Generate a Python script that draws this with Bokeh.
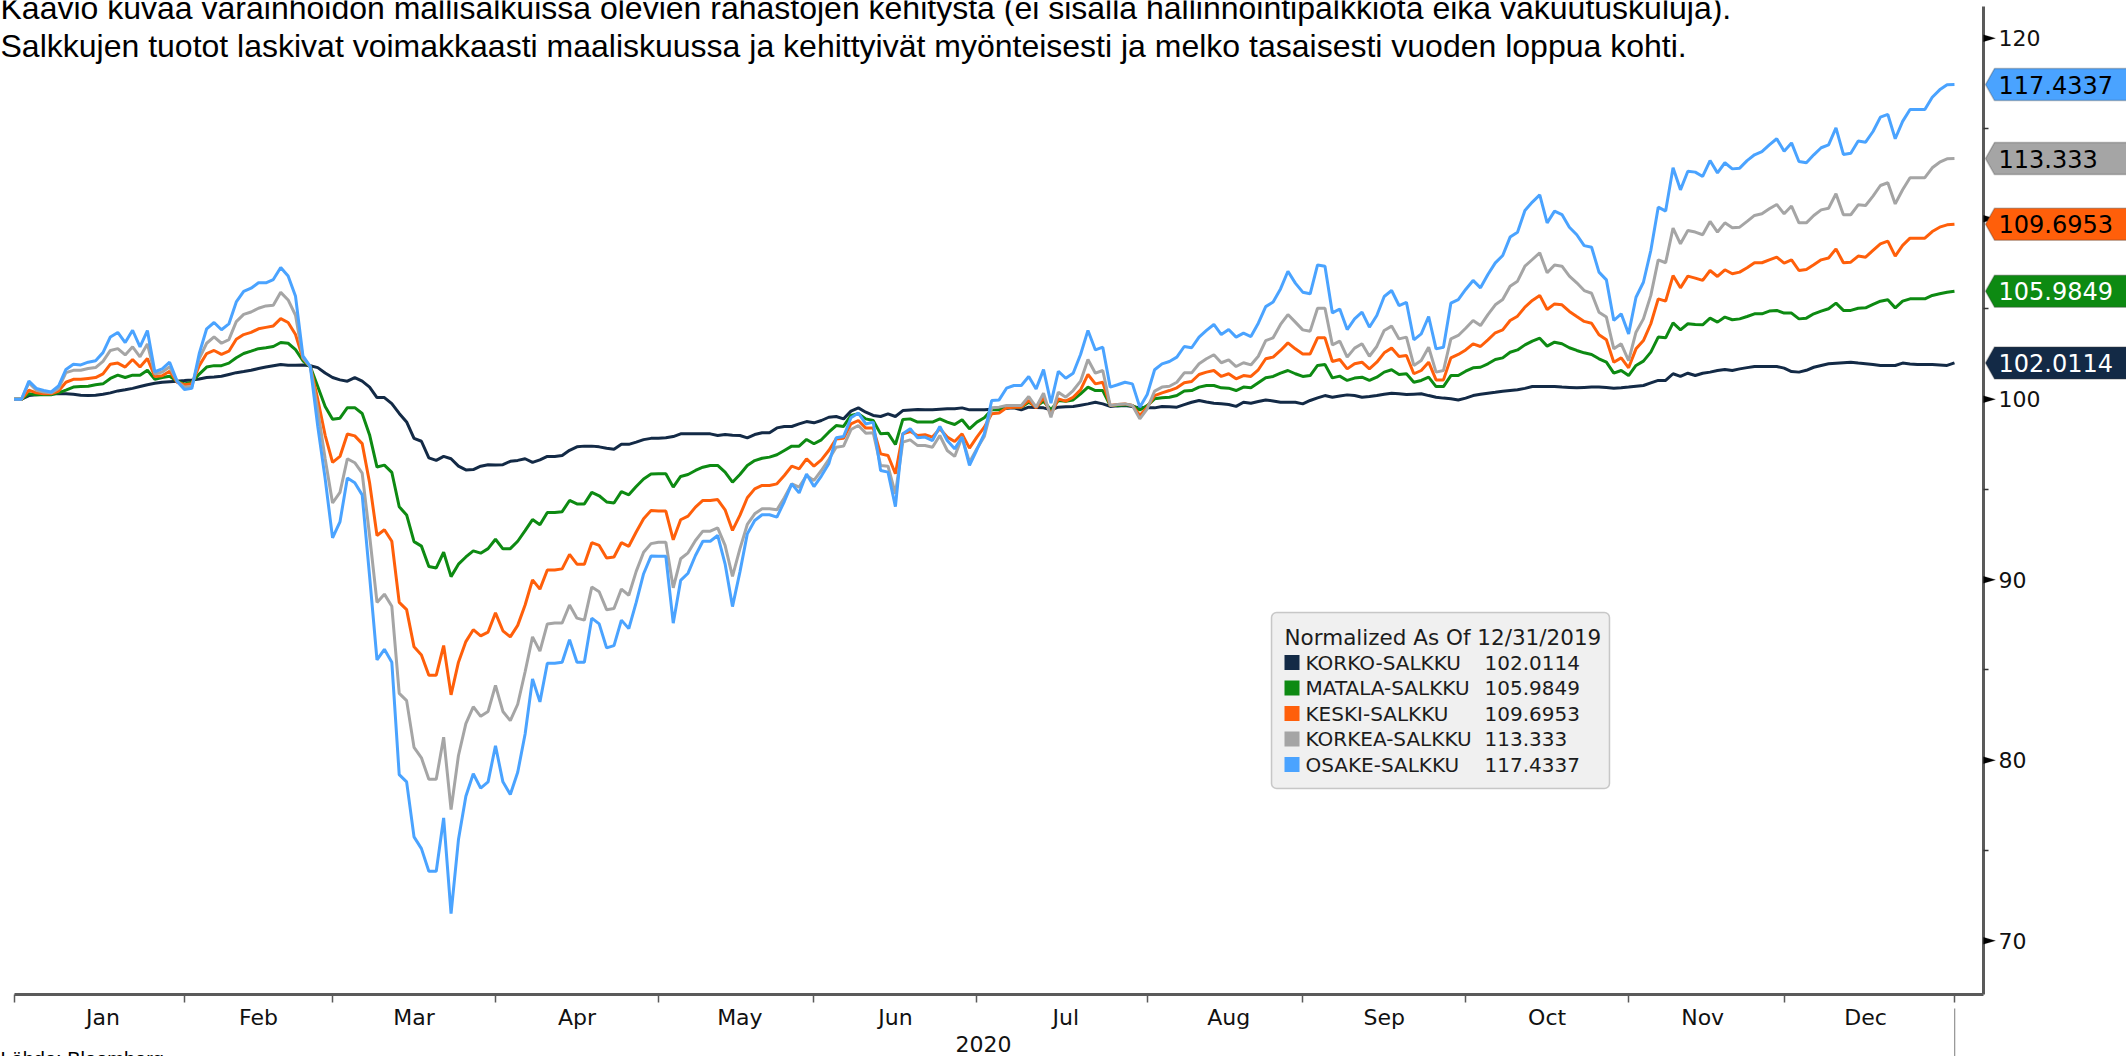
import numpy as np
import pandas as pd
from bokeh.plotting import figure
from bokeh.models import (Range1d, FixedTicker, Label, BoxAnnotation,
                          PolyAnnotation, ColumnDataSource)
from bokeh.embed import file_html
from bokeh.resources import INLINE

# ---------------- data ----------------
DATES = pd.bdate_range("2019-12-31", "2020-12-31")   # trading days
MONTHS = ["Jan", "Feb", "Mar", "Apr", "May", "Jun",
          "Jul", "Aug", "Sep", "Oct", "Nov", "Dec"]
YEAR_LABEL = "2020"
SERIES_NAMES = ["KORKO-SALKKU", "MATALA-SALKKU", "KESKI-SALKKU",
                "KORKEA-SALKKU", "OSAKE-SALKKU"]
LAST_VALUES = ["102.0114", "105.9849", "109.6953", "113.333", "117.4337"]
LEGEND_TITLE = "Normalized As Of 12/31/2019"
TITLE_1 = ("Kaavio kuvaa varainhoidon mallisalkuissa olevien rahastojen kehitystä "
           "(ei sisällä hallinnointipalkkiota eikä vakuutuskuluja).")
TITLE_2 = ("Salkkujen tuotot laskivat voimakkaasti maaliskuussa ja kehittyivät "
           "myönteisesti ja melko tasaisesti vuoden loppua kohti.")
SOURCE = "Lähde: Bloomberg"
Y_TICKS = [70, 80, 90, 100, 110, 120]
Y_MINOR = [75, 85, 95, 105, 115]

osake = [
    100, 100, 101.0, 100.6, 100.48, 100.4, 100.73, 101.65, 101.94, 101.9,
    102.05, 102.13, 102.58, 103.45, 103.7, 103.14, 103.82, 102.9, 103.8, 101.52,
    101.68, 102.05, 101.0, 100.54, 100.6, 102.53, 103.9, 104.25, 103.85, 104.17,
    105.39, 105.97, 106.15, 106.45, 106.45, 106.63, 107.3, 106.82, 105.7, 102.4,
    101.8, 98.5, 95.6, 92.32, 93.2, 95.63, 95.37, 94.7, 90.2, 85.56,
    86.14, 85.43, 79.2, 78.8, 75.75, 75.1, 73.85, 73.85, 76.8, 71.5,
    75.6, 78.0, 79.25, 78.45, 78.8, 80.8, 78.8, 78.1, 79.33, 81.45,
    84.5, 83.23, 85.37, 85.37, 85.43, 86.68, 85.43, 85.43, 87.87, 87.55,
    86.22, 86.35, 87.76, 87.29, 88.74, 90.33, 91.31, 91.3, 91.3, 87.59,
    89.96, 90.36, 91.34, 92.13, 92.13, 92.45, 90.88, 88.51, 90.42, 92.54,
    93.28, 93.6, 93.6, 93.47, 94.33, 95.31, 94.81, 95.86, 95.16, 95.74,
    96.42, 97.86, 97.93, 98.97, 99.23, 98.63, 98.73, 96.05, 95.96, 94.05,
    98.08, 98.36, 97.86, 97.9, 97.71, 98.49, 97.71, 97.25, 97.9, 96.33,
    97.2, 98.08, 99.93, 99.96, 100.61, 100.76, 100.76, 101.26, 100.57, 101.64,
    99.78, 101.55, 101.16, 101.44, 102.48, 103.81, 102.73, 102.88, 100.67, 100.8,
    100.94, 100.85, 99.56, 100.26, 101.63, 101.96, 102.09, 102.33, 102.92, 102.85,
    103.44, 103.81, 104.14, 103.58, 103.86, 103.44, 103.66, 103.47, 104.21, 105.13,
    105.38, 106.11, 107.09, 106.43, 105.93, 105.84, 107.44, 107.37, 104.78, 105.0,
    103.86, 104.45, 104.82, 103.99, 104.64, 105.69, 106.02, 105.19, 105.37, 103.29,
    103.62, 104.58, 102.79, 102.88, 105.32, 105.52, 106.08, 106.58, 106.17, 106.91,
    107.55, 107.96, 108.98, 109.25, 110.45, 110.92, 111.32, 109.77, 110.42, 110.23,
    109.53, 109.11, 108.51, 108.42, 107.04, 106.61, 104.36, 104.73, 103.62, 105.65,
    106.48, 108.24, 110.64, 110.42, 112.82, 111.6, 112.63, 112.58, 112.34, 113.22,
    112.54, 113.1, 112.76, 112.8, 113.22, 113.54, 113.72, 114.09, 114.43, 113.74,
    114.2, 113.17, 113.1, 113.54, 113.93, 114.09, 115.03, 113.56, 113.63, 114.3,
    114.24, 114.83, 115.63, 115.78, 114.43, 115.39, 116.05, 116.05, 116.05, 116.73,
    117.14, 117.42, 117.4337]

korkea = [
    100, 100, 100.9, 100.5, 100.4, 100.35, 100.6, 101.47, 101.6, 101.6,
    101.7, 101.75, 102.1, 102.7, 102.8, 102.45, 102.9, 102.35, 103.06, 101.4,
    101.5, 101.8, 101.0, 100.67, 100.7, 102.25, 103.1, 103.45, 103.1, 103.3,
    104.3, 104.7, 104.83, 105.04, 105.17, 105.2, 105.92, 105.5, 104.65, 102.3,
    101.8, 99.4, 96.7, 94.25, 94.84, 96.7, 96.48, 95.9, 92.45, 88.74,
    89.2, 88.53, 83.7, 83.3, 80.71, 80.13, 78.94, 78.94, 81.27, 77.26,
    80.26, 82.03, 82.96, 82.43, 82.7, 84.15, 82.7, 82.19, 83.1, 84.9,
    86.83, 86.04, 87.55, 87.6, 87.6, 88.6, 87.87, 87.76, 89.59, 89.33,
    88.34, 88.4, 89.48, 89.14, 90.46, 91.52, 92.0, 92.08, 92.08, 89.55,
    91.16, 91.49, 92.17, 92.69, 92.69, 92.87, 91.9, 90.18, 91.71, 93.06,
    93.65, 93.93, 93.93, 93.87, 94.54, 95.31, 95.13, 95.77, 95.5, 96.05,
    96.66, 97.34, 97.4, 98.32, 98.54, 98.12, 98.14, 96.33, 96.29, 94.76,
    97.62, 97.75, 97.43, 97.43, 97.34, 97.99, 97.16, 96.83, 97.9, 96.51,
    97.25, 97.93, 99.52, 99.56, 99.65, 99.65, 99.65, 100.15, 99.56, 100.33,
    99.0, 100.39, 100.11, 100.48, 101.0, 102.2, 101.44, 101.59, 99.65, 99.71,
    99.74, 99.65, 98.91, 99.47, 100.45, 100.67, 100.72, 100.94, 101.46, 101.46,
    101.96, 102.24, 102.46, 102.02, 102.18, 101.81, 102.02, 101.9, 102.38, 103.25,
    103.4, 104.14, 104.69, 104.27, 103.84, 103.77, 105.04, 105.04, 103.01, 103.22,
    102.33, 102.83, 103.07, 102.38, 102.92, 103.81, 104.05, 103.34, 103.44, 101.87,
    102.14, 102.88, 101.5, 101.59, 103.34, 103.53, 103.93, 104.36, 104.08, 104.69,
    105.23, 105.52, 106.26, 106.54, 107.37, 107.74, 108.11, 107.0, 107.44, 107.37,
    106.82, 106.45, 106.02, 105.87, 104.82, 104.55, 102.79, 103.07, 102.14, 103.71,
    104.45, 105.75, 107.72, 107.56, 109.48, 108.61, 109.35, 109.26, 109.11, 109.85,
    109.26, 109.77, 109.5, 109.53, 109.85, 110.18, 110.27, 110.55, 110.79, 110.27,
    110.7, 109.77, 109.77, 110.18, 110.49, 110.58, 111.38, 110.22, 110.22, 110.77,
    110.73, 111.25, 111.84, 111.99, 110.82, 111.6, 112.27, 112.27, 112.27, 112.82,
    113.13, 113.32, 113.333]

keski = [
    100, 100, 100.5, 100.35, 100.3, 100.3, 100.45, 100.94, 101.1, 101.1,
    101.15, 101.2, 101.4, 101.94, 102.0, 101.78, 102.2, 101.78, 102.25, 101.26,
    101.3, 101.55, 100.94, 100.8, 100.85, 101.86, 102.53, 102.7, 102.48, 102.66,
    103.32, 103.58, 103.7, 103.9, 103.98, 104.06, 104.46, 104.25, 103.58, 102.25,
    101.8, 100.0, 98.0, 96.5, 96.83, 98.07, 97.97, 97.54, 95.37, 92.45,
    92.77, 92.13, 88.74, 88.34, 86.28, 85.83, 84.71, 84.71, 86.35, 83.62,
    85.43, 86.57, 87.23, 86.89, 87.1, 88.16, 87.17, 86.83, 87.47, 88.6,
    89.99, 89.48, 90.54, 90.54, 90.6, 91.4, 90.86, 90.86, 92.05, 91.9,
    91.2, 91.26, 92.05, 91.85, 92.64, 93.38, 93.83, 93.8, 93.8, 92.21,
    93.32, 93.52, 94.02, 94.39, 94.39, 94.44, 93.87, 92.73, 93.56, 94.54,
    95.03, 95.22, 95.22, 95.31, 95.77, 96.29, 96.14, 96.7, 96.29, 96.64,
    97.16, 97.8, 97.84, 98.63, 98.82, 98.4, 98.4, 96.97, 96.88, 95.87,
    98.08, 98.21, 97.99, 98.03, 97.9, 98.36, 97.9, 97.66, 98.08, 97.29,
    97.9, 98.45, 99.19, 99.23, 99.52, 99.56, 99.56, 99.93, 99.52, 100.08,
    99.15, 100.02, 99.89, 100.11, 100.52, 101.37, 100.85, 100.94, 99.65, 99.71,
    99.74, 99.65, 99.1, 99.56, 100.2, 100.35, 100.48, 100.63, 100.91, 100.98,
    101.37, 101.5, 101.59, 101.26, 101.41, 101.13, 101.31, 101.26, 101.63, 102.24,
    102.33, 102.7, 103.12, 102.79, 102.51, 102.51, 103.4, 103.4, 102.09, 102.2,
    101.68, 101.96, 102.05, 101.68, 102.05, 102.57, 102.83, 102.37, 102.42, 101.41,
    101.59, 102.05, 101.07, 101.07, 102.29, 102.48, 102.73, 103.07, 102.92, 103.29,
    103.68, 103.84, 104.36, 104.6, 105.1, 105.47, 105.75, 104.97, 105.28, 105.23,
    104.86, 104.58, 104.31, 104.21, 103.57, 103.29, 102.05, 102.29, 101.74, 102.79,
    103.25, 104.18, 105.56, 105.43, 106.85, 106.17, 106.82, 106.71, 106.58, 107.13,
    106.8, 107.17, 106.95, 107.04, 107.28, 107.56, 107.56, 107.72, 107.87, 107.54,
    107.72, 107.13, 107.19, 107.45, 107.72, 107.82, 108.33, 107.56, 107.59, 107.93,
    107.87, 108.24, 108.61, 108.76, 107.93, 108.52, 108.92, 108.92, 108.92, 109.29,
    109.53, 109.66, 109.6953]

matala = [
    100, 100, 100.3, 100.25, 100.25, 100.25, 100.35, 100.5, 100.67, 100.7,
    100.72, 100.8, 100.85, 101.15, 101.33, 101.2, 101.33, 101.33, 101.6, 101.1,
    101.2, 101.27, 101.0, 100.85, 100.94, 101.39, 101.78, 101.86, 101.86, 102.0,
    102.3, 102.53, 102.66, 102.8, 102.85, 102.92, 103.14, 103.1, 102.75, 102.13,
    101.8, 100.7, 99.6, 98.89, 98.95, 99.53, 99.53, 99.21, 98.02, 96.24,
    96.35, 95.95, 94.04, 93.59, 92.11, 91.86, 90.73, 90.65, 91.52, 90.17,
    90.86, 91.26, 91.6, 91.47, 91.72, 92.24, 91.71, 91.72, 92.13, 92.72,
    93.33, 93.04, 93.72, 93.72, 93.77, 94.39, 94.2, 94.2, 94.84, 94.65,
    94.31, 94.25, 94.88, 94.7, 95.16, 95.58, 95.85, 95.87, 95.87, 95.13,
    95.72, 95.83, 96.05, 96.23, 96.33, 96.33, 95.96, 95.4, 95.83, 96.33,
    96.6, 96.73, 96.79, 96.92, 97.16, 97.4, 97.4, 97.77, 97.53, 97.75,
    98.17, 98.54, 98.49, 99.1, 99.19, 98.91, 98.82, 98.08, 98.12, 97.49,
    98.88, 98.91, 98.73, 98.73, 98.73, 98.91, 98.73, 98.6, 98.86, 98.36,
    98.73, 98.97, 99.41, 99.41, 99.52, 99.56, 99.56, 99.83, 99.6, 99.89,
    99.41, 99.93, 99.89, 99.96, 100.3, 100.67, 100.48, 100.48, 99.65, 99.65,
    99.69, 99.65, 99.41, 99.65, 100.02, 100.08, 100.11, 100.2, 100.45, 100.48,
    100.67, 100.76, 100.76, 100.63, 100.61, 100.48, 100.67, 100.63, 100.91, 101.19,
    101.26, 101.44, 101.59, 101.41, 101.26, 101.31, 101.87, 101.92, 101.18, 101.28,
    101.04, 101.17, 101.22, 101.04, 101.22, 101.5, 101.63, 101.37, 101.41, 100.94,
    101.04, 101.22, 100.7, 100.7, 101.31, 101.31, 101.55, 101.74, 101.77, 101.96,
    102.2, 102.29, 102.6, 102.73, 103.01, 103.22, 103.38, 102.94, 103.16, 103.07,
    102.85, 102.7, 102.57, 102.48, 102.24, 102.05, 101.44, 101.59, 101.31, 101.87,
    102.11, 102.61, 103.44, 103.4, 104.23, 103.84, 104.18, 104.14, 104.12, 104.49,
    104.27, 104.55, 104.4, 104.45, 104.58, 104.73, 104.73, 104.88, 104.92, 104.77,
    104.77, 104.45, 104.49, 104.73, 104.88, 105.01, 105.32, 104.92, 104.92, 105.04,
    105.06, 105.25, 105.43, 105.51, 105.06, 105.43, 105.56, 105.56, 105.56, 105.75,
    105.84, 105.93, 105.9849]

korko = [
    100, 100, 100.2, 100.25, 100.28, 100.3, 100.3, 100.3, 100.27, 100.22,
    100.2, 100.22, 100.27, 100.35, 100.46, 100.52, 100.6, 100.7, 100.8, 100.88,
    100.94, 100.97, 101.0, 101.03, 101.07, 101.12, 101.2, 101.23, 101.27, 101.37,
    101.47, 101.53, 101.6, 101.7, 101.78, 101.85, 101.92, 101.88, 101.88, 101.9,
    101.85, 101.75, 101.45, 101.2, 101.07, 101.0, 101.2, 101.0, 100.67, 100.09,
    100.09, 99.75, 99.21, 98.74, 97.83, 97.67, 96.75, 96.61, 96.83, 96.7,
    96.29, 96.08, 96.1, 96.29, 96.37, 96.35, 96.37, 96.56, 96.61, 96.7,
    96.5, 96.64, 96.83, 96.83, 96.88, 97.17, 97.36, 97.4, 97.4, 97.36,
    97.28, 97.23, 97.5, 97.5, 97.62, 97.76, 97.83, 97.84, 97.86, 97.93,
    98.08, 98.08, 98.08, 98.08, 98.08, 97.99, 98.04, 98.0, 97.99, 97.86,
    98.04, 98.14, 98.14, 98.41, 98.49, 98.49, 98.63, 98.76, 98.69, 98.82,
    99.0, 99.04, 98.91, 99.34, 99.52, 99.28, 99.1, 99.04, 99.19, 99.04,
    99.37, 99.4, 99.43, 99.42, 99.41, 99.44, 99.47, 99.47, 99.52, 99.41,
    99.41, 99.41, 99.44, 99.47, 99.5, 99.52, 99.41, 99.56, 99.54, 99.52,
    99.41, 99.56, 99.58, 99.6, 99.67, 99.74, 99.83, 99.74, 99.6, 99.63,
    99.65, 99.6, 99.52, 99.52, 99.52, 99.6, 99.58, 99.56, 99.7, 99.83,
    99.93, 99.85, 99.78, 99.75, 99.71, 99.6, 99.83, 99.78, 99.87, 99.96,
    99.9, 99.83, 99.83, 99.83, 99.74, 99.93, 100.07, 100.2, 100.11, 100.18,
    100.24, 100.2, 100.11, 100.15, 100.2, 100.27, 100.33, 100.3, 100.26, 100.28,
    100.3, 100.2, 100.11, 100.06, 100.02, 99.96, 100.06, 100.2, 100.27, 100.33,
    100.38, 100.44, 100.48, 100.52, 100.6, 100.7, 100.7, 100.7, 100.7, 100.67,
    100.65, 100.63, 100.65, 100.67, 100.67, 100.65, 100.61, 100.63, 100.67, 100.72,
    100.76, 100.9, 101.04, 101.04, 101.41, 101.26, 101.44, 101.31, 101.44, 101.5,
    101.59, 101.65, 101.59, 101.68, 101.75, 101.81, 101.81, 101.81, 101.81, 101.72,
    101.53, 101.5, 101.6, 101.77, 101.87, 101.96, 101.99, 102.02, 102.05, 102.0,
    101.96, 101.92, 101.87, 101.87, 101.87, 102.0, 101.95, 101.92, 101.92, 101.92,
    101.9, 101.87, 102.0114]

SERIES = [korko, matala, keski, korkea, osake]
for s in SERIES:
    assert len(s) == len(DATES), len(s)

# ---------------- style / layout ----------------
COLORS = ["#132a46", "#0d8a12", "#ff5f0a", "#a5a5a5", "#4aa3ff"]
TAG_TEXT = ["white", "white", "black", "black", "black"]
AXIS_FONT = "DejaVu Sans"

W, H = 2126, 1056
PX0, PXU_X = 13.6, 7.406      # canvas px of trading day 0, px per trading day
PY100, PXU_Y = 398.7, 18.05   # canvas px of value 100, px per index point
AXIS_RIGHT_PX, AXIS_BOTTOM_PX = 1983, 994


def dx(px):
    return (px - PX0) / PXU_X


def dyv(py):
    return 100 - (py - PY100) / PXU_Y


def hpx(n):
    return n / PXU_Y


x = np.arange(len(DATES))
src = ColumnDataSource(dict(x=x, korko=korko, matala=matala, keski=keski,
                            korkea=korkea, osake=osake))

p = figure(width=W, height=H, x_range=Range1d(dx(0), dx(W)),
           y_range=Range1d(dyv(H), dyv(0)),
           y_axis_location="right", output_backend="svg", toolbar_location=None,
           min_border_left=0, min_border_right=0, min_border_top=0,
           min_border_bottom=0)
p.outline_line_color = None
p.xgrid.visible = False
p.ygrid.visible = False
p.background_fill_color = "white"
p.border_fill_color = "white"

for key, col in zip(["korko", "matala", "keski", "korkea", "osake"], COLORS):
    p.line("x", key, source=src, line_color=col, line_width=3)

# month ticks (last trading day of previous month) and label positions
edges = []
for m in range(1, 13):
    first = int(np.argmax((DATES.year == 2020) & (DATES.month == m)))
    edges.append(first - 1)
edges.append(len(DATES) - 1)
mids = [int(round((edges[k] + edges[k + 1]) / 2)) for k in range(12)]

x_axis_at = dyv(AXIS_BOTTOM_PX)
y_axis_at = dx(AXIS_RIGHT_PX)

xa = p.xaxis[0]
xa.fixed_location = x_axis_at
xa.bounds = (0, y_axis_at)
xa.ticker = FixedTicker(ticks=mids, minor_ticks=edges)
xa.major_label_overrides = {mids[k]: MONTHS[k] for k in range(12)}
xa.axis_line_color = "#5a5a5a"
xa.axis_line_width = 3
xa.major_tick_out = 0
xa.major_tick_in = 0
xa.major_tick_line_color = None
xa.minor_tick_out = 8
xa.minor_tick_in = 0
xa.minor_tick_line_color = "#5a5a5a"
xa.minor_tick_line_width = 1.5
xa.major_label_standoff = 2
xa.major_label_text_font = AXIS_FONT
xa.major_label_text_font_size = "22px"
xa.major_label_text_color = "#111111"

ya = p.yaxis[0]
ya.fixed_location = y_axis_at
ya.bounds = (x_axis_at, dyv(6))
ya.ticker = FixedTicker(ticks=Y_TICKS, minor_ticks=Y_MINOR)
ya.axis_line_color = "#5a5a5a"
ya.axis_line_width = 3
ya.major_tick_out = 0
ya.major_tick_in = 0
ya.major_tick_line_color = None
ya.minor_tick_out = 5
ya.minor_tick_in = 0
ya.minor_tick_line_color = "#333333"
ya.minor_tick_line_width = 1.5
ya.major_label_standoff = 10
ya.major_label_text_font = AXIS_FONT
ya.major_label_text_font_size = "22px"
ya.major_label_text_color = "#111111"

# triangular major tick marks on the right axis
for t in Y_TICKS:
    p.add_layout(PolyAnnotation(xs=[dx(AXIS_RIGHT_PX), dx(AXIS_RIGHT_PX), dx(AXIS_RIGHT_PX + 12)],
                                ys=[t + hpx(3.5), t - hpx(3.5), t],
                                fill_color="black", fill_alpha=1,
                                line_color="black", line_width=0.5))

# value tags at the right
hh = hpx(16)
for k, s in enumerate(SERIES):
    v = s[-1]
    p.add_layout(PolyAnnotation(
        xs=[dx(1985), dx(1994), dx(W + 5), dx(W + 5), dx(1994)],
        ys=[v, v + hh, v + hh, v - hh, v - hh],
        fill_color=COLORS[k], fill_alpha=1, line_color="#3a3a3a", line_width=1.5))
    p.add_layout(Label(x=dx(1998), y=v, text=LAST_VALUES[k],
                       text_baseline="middle", text_align="left",
                       text_font=AXIS_FONT, text_font_size="24px",
                       text_color=TAG_TEXT[k]))

# legend box
p.add_layout(BoxAnnotation(left=dx(1271), right=dx(1609), top=dyv(612), bottom=dyv(788),
                           fill_color="#f0f0f0", fill_alpha=1, line_color="#5a5a5a",
                           line_width=1.5, border_radius=5))
p.add_layout(Label(x=dx(1284), y=dyv(637), text=LEGEND_TITLE, text_baseline="middle",
                   text_font=AXIS_FONT, text_font_size="21.5px", text_color="#1c1c1c"))
for k in range(5):
    ry = 662 + 25.5 * k
    p.add_layout(BoxAnnotation(left=dx(1284), right=dx(1299), top=dyv(ry - 7.5),
                               bottom=dyv(ry + 7.5), fill_color=COLORS[k], fill_alpha=1,
                               line_color=None))
    p.add_layout(Label(x=dx(1305), y=dyv(ry), text=SERIES_NAMES[k],
                       text_baseline="middle", text_font=AXIS_FONT,
                       text_font_size="20px", text_color="#1c1c1c"))
    p.add_layout(Label(x=dx(1484), y=dyv(ry), text=LAST_VALUES[k],
                       text_baseline="middle", text_font=AXIS_FONT,
                       text_font_size="20px", text_color="#1c1c1c"))

# texts
p.add_layout(Label(x=dx(0), y=dyv(7), text=TITLE_1, text_baseline="alphabetic",
                   text_font="Liberation Sans", text_font_size="32px", text_color="black"))
p.add_layout(Label(x=dx(0), y=dyv(45), text=TITLE_2, text_baseline="alphabetic",
                   text_font="Liberation Sans", text_font_size="32px", text_color="black"))
p.add_layout(Label(x=dx(983), y=dyv(1043), text=YEAR_LABEL, text_baseline="middle",
                   text_align="center", text_font=AXIS_FONT, text_font_size="22px",
                   text_color="#111111"))
p.add_layout(Label(x=dx(0), y=dyv(1047), text=SOURCE, text_baseline="top",
                   text_font="Liberation Sans", text_font_size="20px", text_color="black"))
p.add_layout(BoxAnnotation(left=dx(1953.5), right=dx(1954.8), top=dyv(1008),
                           bottom=dyv(H), fill_color="#9a9a9a", fill_alpha=1,
                           line_color=None))

open("out.html", "w").write(file_html(p, INLINE))
